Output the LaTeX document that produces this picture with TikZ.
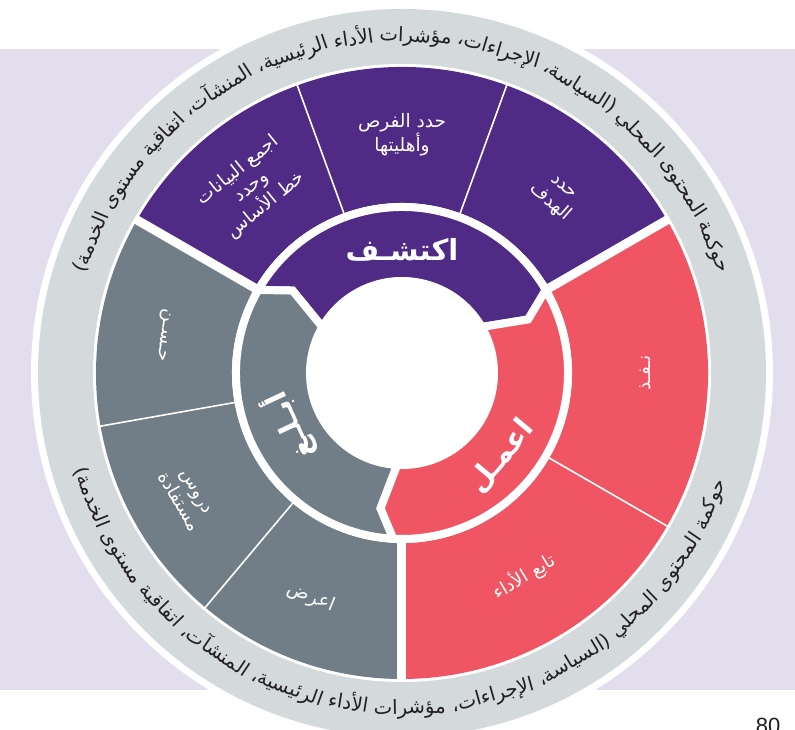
\documentclass[tikz,border=0pt]{standalone}
\usepackage{fontspec}
\setmainfont{Liberation Sans}
\newfontfamily\arabicfont[Script=Arabic]{DejaVu Sans}
\TeXXeTstate=1

\definecolor{discover}{HTML}{4F2B86}
\definecolor{act}{HTML}{F05563}
\definecolor{report}{HTML}{717E87}
\definecolor{govring}{HTML}{D4D9DB}
\definecolor{backdrop}{HTML}{E2DEEE}
\definecolor{ink}{HTML}{231F20}

\newcommand\ar[1]{{\arabicfont\beginR#1\endR}}
\newdimen\rtot
\newbox\wordbox
% governance text, one entry per word, in reading order (braced so a leading parenthesis is kept as text)
\newcommand\govwords{{حوكمة},{المحتوى},{المحلي},{(السياسة،},{الإجراءات،},{مؤشرات},{الأداء},{الرئيسية،},{المنشآت،},{اتفاقية},{مستوى},{الخدمة)}}
\newcommand\govrad{336}
\newcommand\govspan{145}
\newcommand\govfont{\arabicfont\fontsize{\govsize}{\govsize}\selectfont}

% words set one by one along an arc
% #1 centre angle, #2 direction (1 anticlockwise, -1 clockwise), #3 glyph turn, #4 name prefix
\newcommand\govarc[4]{%
  \pgfmathsetmacro\tmpang{#1 - #2*\govspan/2}%
  \xdef\curang{\tmpang}%
  \foreach \w [count=\i] in \govwords {%
    \pgfmathsetmacro\thiswd{\csname govwd\i\endcsname*\govsize/10}%
    \pgfmathsetmacro\midang{\curang + #2*(\thiswd/2)/\govrad*180/pi}%
    \node[govword, rotate=\midang+#3] (#4-\i) at (\midang:\govrad) {\govfont\beginR\w\endR};
    \pgfmathsetmacro\nxtang{\curang + #2*(\thiswd + \govgap)/\govrad*180/pi}%
    \xdef\curang{\nxtang}%
  }}

\begin{document}
% word widths at 10pt, then the size that lets the words fill the arc
\global\rtot=0pt
\foreach \w [count=\i] in \govwords {%
  \setbox\wordbox=\hbox{\arabicfont\fontsize{10}{10}\selectfont\w}%
  \global\advance\rtot by \wd\wordbox
  \expandafter\xdef\csname govwd\i\endcsname{\the\wd\wordbox}%
}%
\pgfmathsetmacro\tmpsize{\govrad*(\govspan*pi/180)/(\rtot/10 + 11*0.3)}%
\xdef\govsize{\tmpsize}%
\pgfmathsetmacro\tmpgap{0.3*\govsize}\xdef\govgap{\tmpgap}%
\pgfmathsetmacro\tmpth{0.85*\govsize}\xdef\govth{\tmpth}%
\pgfmathsetmacro\tmptd{0.35*\govsize}\xdef\govtd{\tmptd}%
\begin{tikzpicture}[x=1pt,y=1pt,
  steplbl/.style={text=white, font=\arabicfont\fontsize{18.5}{21}\selectfont, align=center, inner sep=0pt},
  phaselbl/.style={text=white, font=\arabicfont\bfseries\fontsize{29}{29}\selectfont, inner sep=0pt},
  thinsep/.style={draw=white, line width=1.6pt},
  thicksep/.style={draw=white, line width=9pt},
  phasecell/.style={draw=white, line width=8pt, line join=miter},
  govword/.style={text=ink, inner sep=0pt, text height=\govth pt, text depth=\govtd pt},
  pagenum/.style={text=ink, font=\fontsize{22}{22}\selectfont, inner sep=0pt}
]
\useasboundingbox (-402,-357) rectangle (393,373);
\fill[white] (-402,-357) rectangle (393,373);
\fill[backdrop] (-402,-317) rectangle (393,324);

% governance ring with its white rim
\fill[white] (0,0) circle[radius=371];
\fill[govring] (0,0) circle[radius=364];
\fill[white] (0,0) circle[radius=309];

% outer ring: the steps of each phase
\fill[discover] (30:170) arc[start angle=30,end angle=150,radius=170] -- (150:306) arc[start angle=150,end angle=30,radius=306] -- cycle;
\fill[report] (150:170) arc[start angle=150,end angle=270,radius=170] -- (270:306) arc[start angle=270,end angle=150,radius=306] -- cycle;
\fill[act] (-90:170) arc[start angle=-90,end angle=30,radius=170] -- (30:306) arc[start angle=30,end angle=-90,radius=306] -- cycle;
\foreach \a in {110,70,-30,190,230} \draw[thinsep] (\a:169) -- (\a:307);
\foreach \a in {30,150,270} \draw[thicksep] (\a:165) -- (\a:308);

% inner ring: three phases, each pointing clockwise into the next
\path[phasecell, fill=discover] (150:166) arc[start angle=150,end angle=30,radius=166] -- (23:137) -- (30:92) arc[start angle=30,end angle=150,radius=92] -- (143:137) -- cycle;
\path[phasecell, fill=report] (150:166) arc[start angle=150,end angle=267,radius=166] -- (261:137) -- (267:92) arc[start angle=267,end angle=150,radius=92] -- (143:137) -- cycle;
\path[phasecell, fill=act] (30:166) arc[start angle=30,end angle=-93,radius=166] -- (-99:137) -- (-93:92) arc[start angle=-93,end angle=30,radius=92] -- (23:137) -- cycle;

% phase names
\node[phaselbl] (discover) at (90:123) {\ar{اكتشـف}};
\node[phaselbl, rotate=50] (act) at (-40:130) {\ar{اعمـل}};
\node[phaselbl, rotate=115] (report) at (205.5:125) {\ar{أبـلـغ}};

% step names
\node[steplbl, rotate=39] (gather) at (129:238) {\ar{اجمع البيانات}\\\ar{وحدد}\\\ar{خط الأساس}};
\node[steplbl] (chances) at (90:238) {\ar{حدد الفرص}\\\ar{وأهليتها}};
\node[steplbl, rotate=-41] (goal) at (49:234) {\ar{حدد}\\\ar{الهدف}};
\node[steplbl, rotate=90] (execute) at (0:243) {\ar{نـفـذ}};
\node[steplbl, rotate=31] (track) at (-59:237) {\ar{تابع الأداء}};
\node[steplbl, rotate=-22] (present) at (248:242) {\ar{اعرض}};
\node[steplbl, rotate=-60] (lessons) at (210:249) {\ar{دروس}\\\ar{مستفادة}};
\node[steplbl, rotate=-99] (improve) at (171:242) {\ar{حـسـن}};

% governance text around the ring
\govarc{90}{1}{-90}{top}
\govarc{-91}{-1}{90}{bottom}

% page number
\node[pagenum, anchor=base] (page) at (366,-360) {80};
\end{tikzpicture}
\end{document}
